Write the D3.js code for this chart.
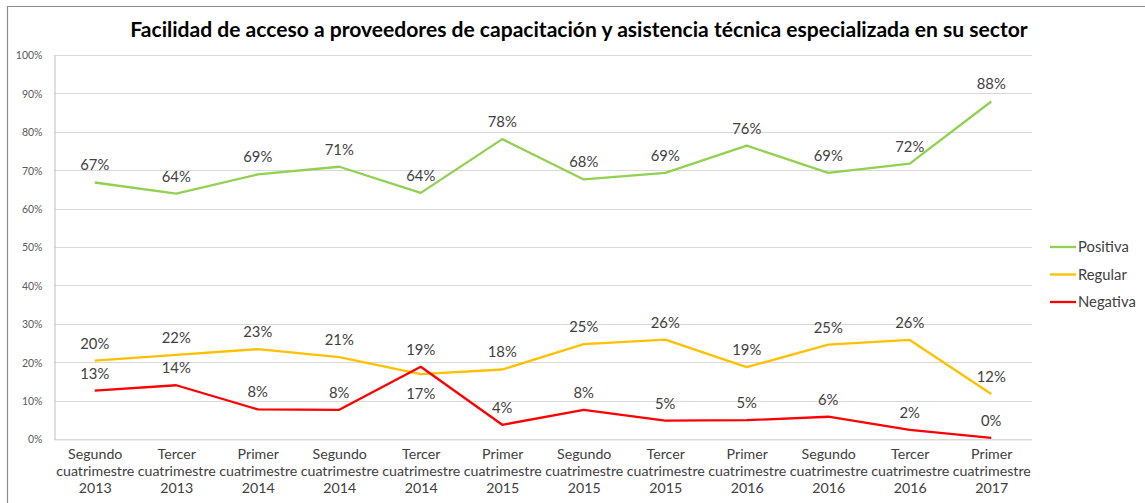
<!DOCTYPE html>
<html>
<head>
<meta charset="utf-8">
<script src="https://cdn.jsdelivr.net/npm/d3@7"></script>
<style>
  html, body { margin: 0; padding: 0; background: #fff; }
  svg { display: block; font-family: Lato, "Open Sans", sans-serif; }
</style>
</head>
<body>
<svg id="chart" width="1145" height="503"></svg>
<script>
// Periods (three-line labels: term / "cuatrimestre" / year)
const periods = [
  ["Segundo", "cuatrimestre", "2013"],
  ["Tercer", "cuatrimestre", "2013"],
  ["Primer", "cuatrimestre", "2014"],
  ["Segundo", "cuatrimestre", "2014"],
  ["Tercer", "cuatrimestre", "2014"],
  ["Primer", "cuatrimestre", "2015"],
  ["Segundo", "cuatrimestre", "2015"],
  ["Tercer", "cuatrimestre", "2015"],
  ["Primer", "cuatrimestre", "2016"],
  ["Segundo", "cuatrimestre", "2016"],
  ["Tercer", "cuatrimestre", "2016"],
  ["Primer", "cuatrimestre", "2017"]
];

// Share of respondents per answer (percent)
const positiva = [66.8, 63.9, 68.9, 70.9, 64.1, 78.1, 67.6, 69.3, 76.4, 69.3, 71.7, 87.9];
const regular  = [20.4, 21.9, 23.4, 21.3, 16.9, 18.1, 24.7, 25.9, 18.7, 24.6, 25.8, 11.7];
const negativa = [12.6, 14.0,  7.7,  7.6, 18.8,  3.7,  7.6,  4.8,  4.9,  5.8,  2.4,  0.3];

const yTicks = [0, 10, 20, 30, 40, 50, 60, 70, 80, 90, 100];

const seriesNames = ["Positiva", "Regular", "Negativa"];
const seriesColors = ["#92D050", "#FFC000", "#FF0000"];
const seriesValues = [positiva, regular, negativa];

const titleText = "Facilidad de acceso a proveedores de capacitación y asistencia técnica especializada en su sector";

const svg = d3.select("#chart");
const W = 1145, H = 503;
const plot = { left: 54, right: 1032, top: 55, bottom: 439 };

// Chart frame
svg.append("path")
  .attr("d", `M7.5,${H} V6.5 H${W}`)
  .attr("fill", "none")
  .attr("stroke", "#8c8c8c")
  .attr("stroke-width", 1.2);

// Title, sized to span the header
const title = svg.append("text")
  .attr("x", 579)
  .attr("y", 37)
  .attr("text-anchor", "middle")
  .attr("font-weight", "bold")
  .attr("font-size", 20)
  .attr("fill", "#000")
  .text(titleText);
const tw = title.node().getComputedTextLength();
title.attr("font-size", 20 * 898 / tw);

const x = d3.scalePoint()
  .domain(d3.range(periods.length))
  .range([plot.left, plot.right])
  .padding(0.5);

const y = d3.scaleLinear()
  .domain([0, 100])
  .range([plot.bottom, plot.top]);

// Horizontal gridlines
svg.append("g")
  .selectAll("line")
  .data(yTicks)
  .join("line")
  .attr("x1", plot.left)
  .attr("x2", plot.right)
  .attr("y1", d => Math.round(y(d)) + 0.5)
  .attr("y2", d => Math.round(y(d)) + 0.5)
  .attr("stroke", "#d9d9d9")
  .attr("stroke-width", 1);

// Value axis
const yAxis = d3.axisLeft(y)
  .tickValues(yTicks)
  .tickSize(0)
  .tickPadding(12)
  .tickFormat(d => d + "%");
const gy = svg.append("g")
  .attr("transform", `translate(${plot.left + 0.5},0.5)`)
  .call(yAxis);
gy.select(".domain").attr("stroke", "#bfbfbf");
gy.selectAll("text")
  .attr("font-family", "Lato, sans-serif")
  .attr("font-size", 10.5)
  .attr("fill", "#595959");

// Category axis
const xAxis = d3.axisBottom(x).tickSize(0).tickFormat("");
const gx = svg.append("g")
  .attr("transform", `translate(0,${plot.bottom + 0.5})`)
  .call(xAxis);
gx.select(".domain").attr("stroke", "#d9d9d9");
gx.selectAll(".tick").each(function(i) {
  const t = d3.select(this).append("text")
    .attr("text-anchor", "middle")
    .attr("font-family", "Lato, sans-serif")
    .attr("font-size", 14.2)
    .attr("fill", "#404040");
  periods[i].forEach((line, k) => {
    t.append("tspan")
      .attr("x", 0)
      .attr("y", 19 + k * 17)
      .text(line);
  });
});

// Lines
const line = d3.line()
  .x((d, i) => x(i))
  .y(d => y(d));

seriesValues.forEach((vals, s) => {
  svg.append("path")
    .datum(vals)
    .attr("d", line)
    .attr("fill", "none")
    .attr("stroke", seriesColors[s])
    .attr("stroke-width", 2.3)
    .attr("stroke-linejoin", "round");
});

// Value labels above each point; a Regular label drops below its point
// where the Negativa line runs above it
seriesValues.forEach((vals, s) => {
  svg.append("g")
    .selectAll("text")
    .data(vals)
    .join("text")
    .attr("x", (d, i) => x(i))
    .attr("y", (d, i) => {
      const below = s === 1 && negativa[i] > regular[i];
      return below ? y(d) + 25 : y(d) - 12;
    })
    .attr("text-anchor", "middle")
    .attr("font-size", 14.8)
    .attr("fill", "#404040")
    .text(d => Math.round(d) + "%");
});

// Legend
const legend = svg.append("g")
  .selectAll("g")
  .data(seriesNames)
  .join("g")
  .attr("transform", (d, i) => `translate(1050,${247 + i * 27.5})`);
legend.append("line")
  .attr("x1", 0).attr("x2", 26)
  .attr("y1", 0).attr("y2", 0)
  .attr("stroke", (d, i) => seriesColors[i])
  .attr("stroke-width", 2.3);
legend.append("text")
  .attr("x", 28)
  .attr("y", 5)
  .attr("font-size", 14.8)
  .attr("fill", "#404040")
  .text(d => d);
</script>
</body>
</html>
